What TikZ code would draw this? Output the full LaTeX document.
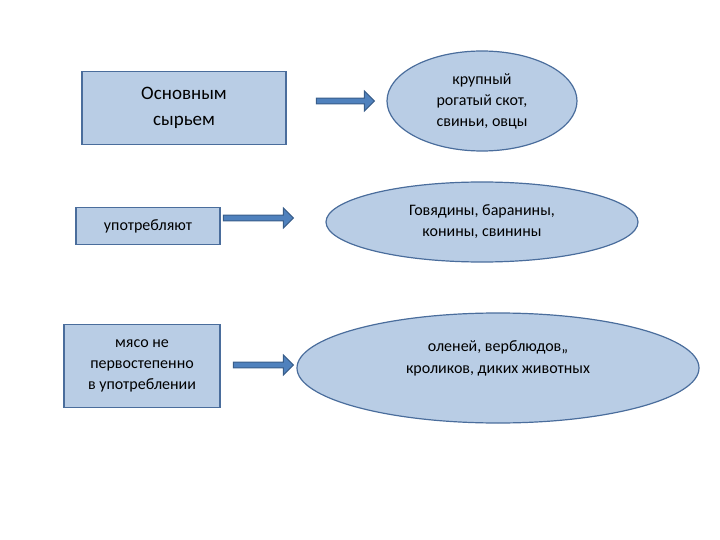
\documentclass[tikz,border=0pt]{standalone}
\usepackage{fontspec}
\setmainfont{Carlito}
\usetikzlibrary{shapes.geometric,shapes.arrows}
\definecolor{fillb}{HTML}{B9CDE5}
\definecolor{edgeb}{HTML}{4A6D9C}
\definecolor{arrb}{HTML}{4F81BD}
\definecolor{arre}{HTML}{385D8A}
\begin{document}
\begin{tikzpicture}[x=1pt,y=-1pt,
 box/.style={draw=edgeb,fill=fillb,line width=1.2pt,align=center,inner sep=2pt,font=\fontsize{16}{21}\selectfont},
 ell/.style={ellipse,draw=edgeb,fill=fillb,line width=1.2pt,align=center,inner sep=0pt,font=\fontsize{16}{21}\selectfont},
 arr/.style={single arrow,draw=arre,fill=arrb,line width=1pt,single arrow head extend=5pt,minimum height=#1,minimum width=20pt,inner sep=1.5pt}]
\useasboundingbox (0,0) rectangle (720,540);
\node[box,minimum width=204,minimum height=73,font=\fontsize{19}{26}\selectfont] (b1) at (184,108) {Основным\\сырьем};
\node[box,minimum width=144,minimum height=37] (b2) at (148,226) {употребляют};
\node[box,minimum width=156,minimum height=83] (b3) at (142,366) {мясо не\\первостепенно\\в употреблении};
\node[ell,minimum width=190,minimum height=100] (e1) at (482,101) {крупный\\рогатый скот,\\свиньи, овцы};
\node[ell,minimum width=312,minimum height=80] (e2) at (482,222) {Говядины, баранины,\\конины, свинины};
\node[ell,minimum width=402,minimum height=110] (e3) at (498,368) {};
\node[align=center,font=\fontsize{16}{22}\selectfont] (t3) at (498,358) {оленей, верблюдов,,\\кроликов, диких животных};
\node[arr=58pt] (a1) at (344,101) {};
\node[arr=70pt] (a2) at (257,218) {};
\node[arr=60pt] (a3) at (262,365) {};
\end{tikzpicture}
\end{document}
